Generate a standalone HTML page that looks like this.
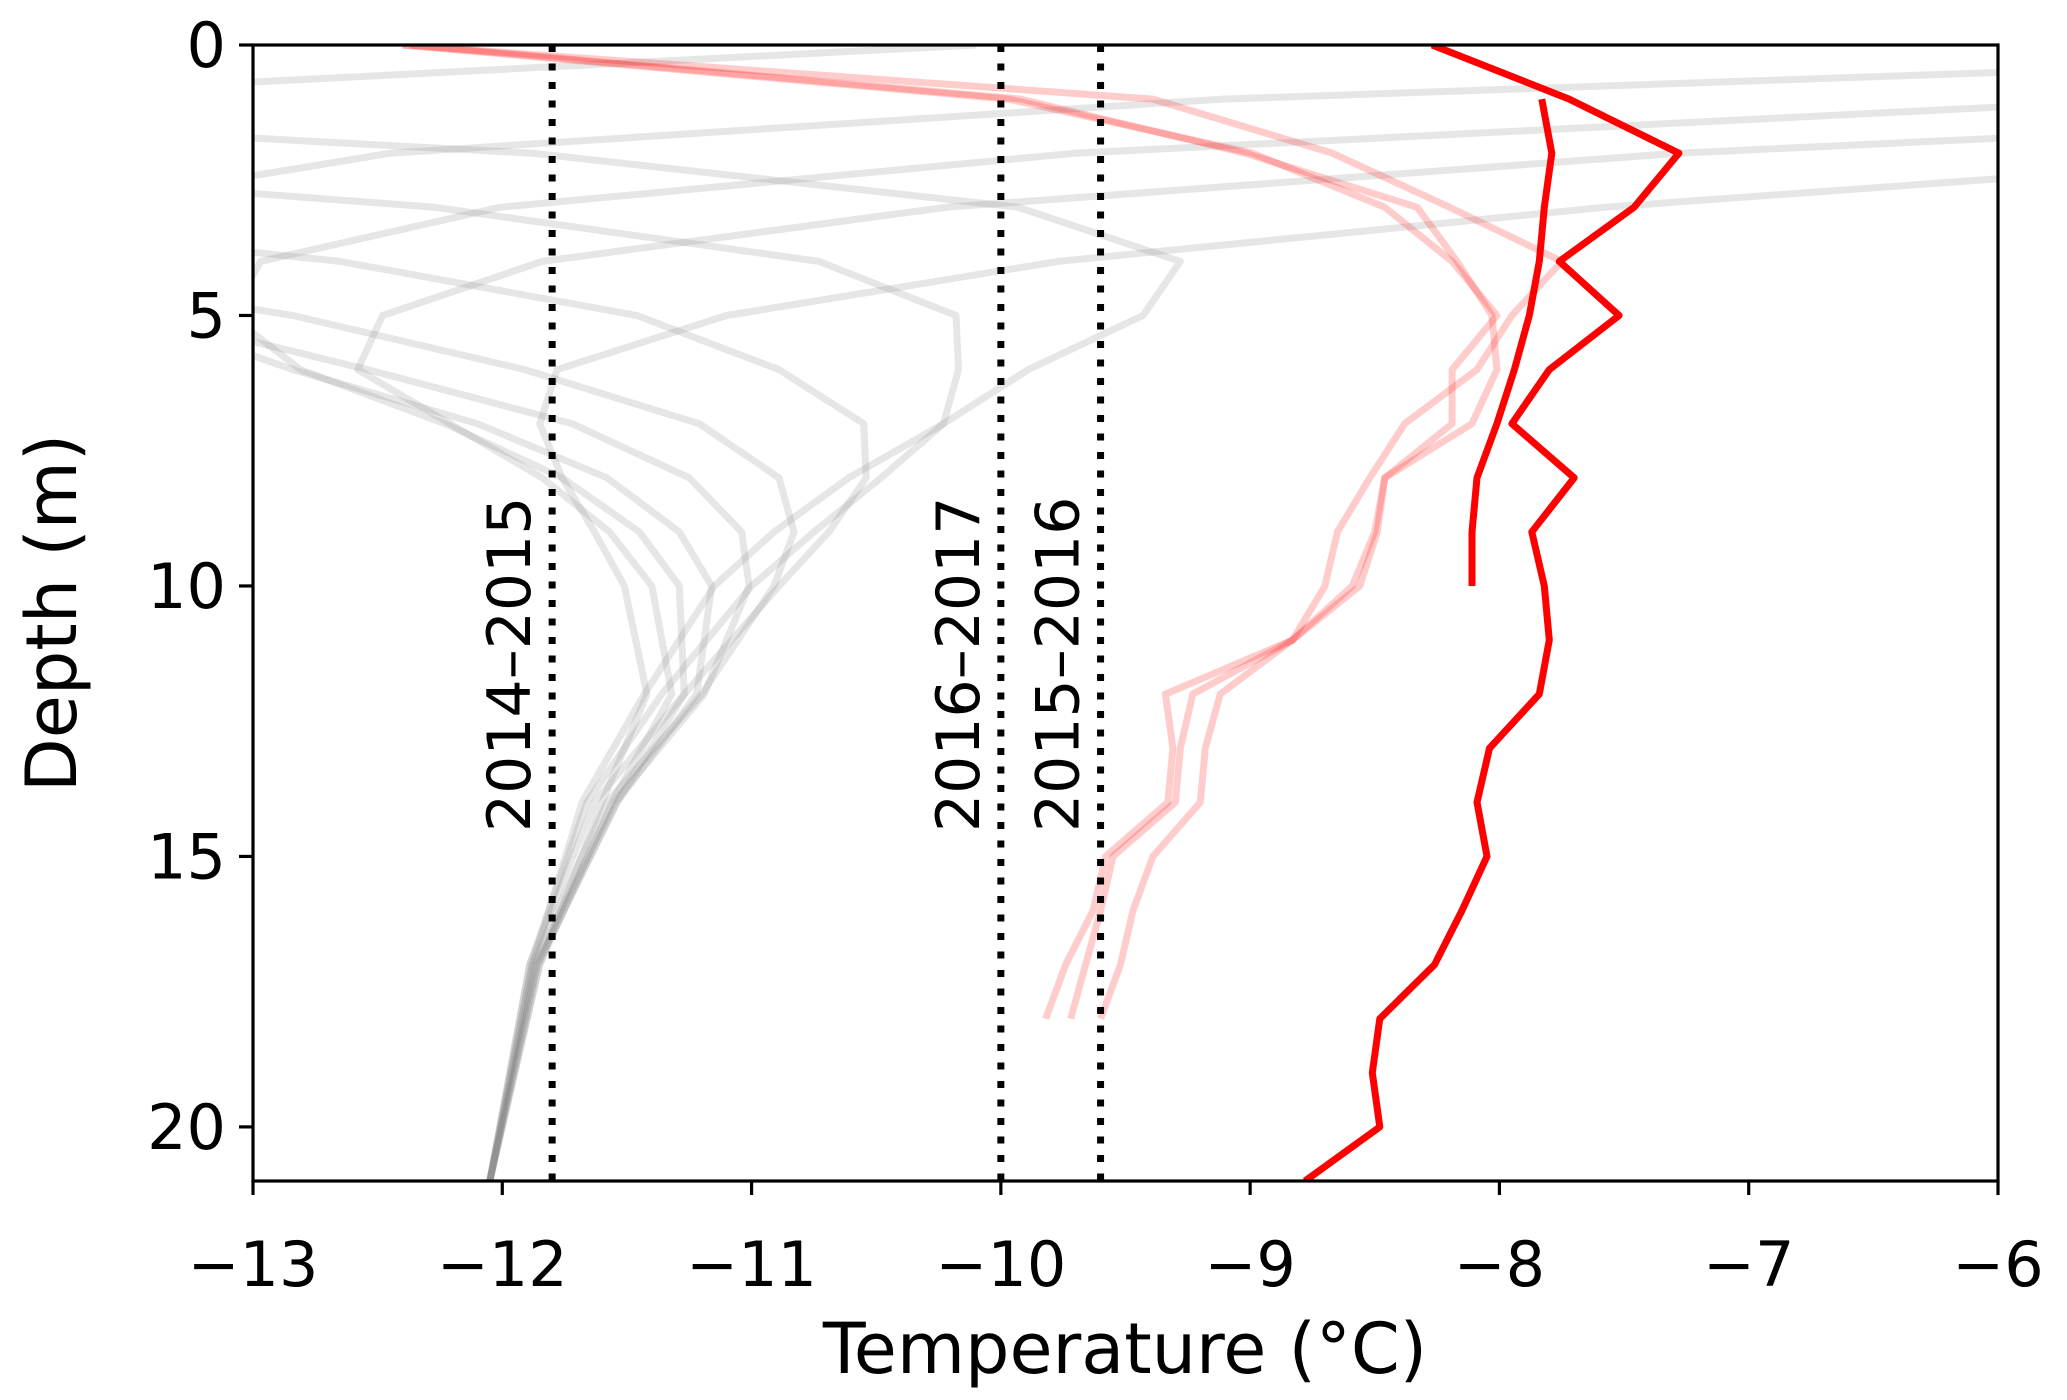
<!DOCTYPE html>
<html><head><meta charset="utf-8">
<style>
html,body{margin:0;padding:0;background:#fff;}
svg{display:block;font-family:"DejaVu Sans","Liberation Sans",sans-serif;}
</style></head>
<body>
<svg id="chart" width="2067" height="1400" viewBox="0 0 2067 1400" xmlns="http://www.w3.org/2000/svg">
<defs><clipPath id="plotclip"><rect x="253" y="45" width="1745" height="1136"/></clipPath></defs>
<rect width="2067" height="1400" fill="#fff"/>
<g id="gray-layer" clip-path="url(#plotclip)"></g>
<g id="lightred-layer" clip-path="url(#plotclip)"></g>
<g id="red-layer" clip-path="url(#plotclip)"></g>
<g id="vline-layer"></g>
<g id="axis-layer"></g>
<text x="1125" y="1373" font-size="70" text-anchor="middle">Temperature (°C)</text>
<text transform="translate(76,613) rotate(-90)" font-size="70" text-anchor="middle">Depth (m)</text>
</svg>
<script>
// ---- data ----
const grayDepths = [0,1,2,3,4,5,6,7,8,9,10,12,14,17,21];
const grayProfile1 = [-22.56,-15.90,-11.88,-9.93,-9.28,-9.43,-9.89,-10.23,-10.61,-10.91,-11.15,-11.43,-11.68,-11.88,-12.05];
const grayProfile2 = [-25.8,-19.66,-15.11,-12.27,-10.73,-10.18,-10.17,-10.23,-10.48,-10.75,-11.00,-11.36,-11.66,-11.89,-12.05];
const grayProfile3 = [-24.87,-21.36,-17.70,-14.73,-12.65,-11.46,-10.89,-10.55,-10.54,-10.69,-10.89,-11.27,-11.63,-11.89,-12.05];
const grayProfile4 = [-17.79,-18.70,-17.72,-15.97,-14.21,-12.84,-11.91,-11.21,-10.89,-10.83,-10.91,-11.20,-11.58,-11.88,-12.05];
const grayProfile5 = [-10.10,-14.33,-15.69,-15.42,-14.48,-13.43,-12.54,-11.72,-11.25,-11.04,-11.01,-11.19,-11.55,-11.87,-12.05];
const grayProfile6 = [-2.79,-9.11,-12.45,-13.77,-13.90,-13.46,-12.84,-12.10,-11.58,-11.29,-11.16,-11.22,-11.54,-11.86,-12.05];
const grayProfile7 = [1.43,-5.36,-9.70,-12.01,-12.97,-13.09,-12.81,-12.23,-11.76,-11.45,-11.29,-11.27,-11.54,-11.86,-12.05];
const grayProfile8 = [3.62,-2.64,-7.28,-10.22,-11.84,-12.48,-12.58,-12.21,-11.84,-11.57,-11.40,-11.32,-11.56,-11.85,-12.05];
const grayProfile9 = [2.40,-0.95,-4.58,-7.58,-9.77,-11.10,-11.78,-11.85,-11.76,-11.63,-11.51,-11.42,-11.60,-11.85,-12.05];

const fadedDepths = [0,1,2,3,4,5,6,7,8,9,10,11,12,13,14,15,16,17,18];
const fadedA = [-12.37,-9.92,-9.02,-8.33,-8.17,-8.03,-8.01,-8.11,-8.46,-8.50,-8.59,-8.83,-9.12,-9.18,-9.20,-9.39,-9.47,-9.52,-9.60];
const fadedB = [-12.40,-9.39,-8.67,-8.20,-7.75,-7.95,-8.09,-8.38,-8.52,-8.65,-8.70,-8.83,-9.23,-9.28,-9.30,-9.55,-9.60,-9.66,-9.72];
const fadedC = [-12.40,-9.97,-8.99,-8.46,-8.19,-8.01,-8.19,-8.19,-8.46,-8.49,-8.56,-8.83,-9.34,-9.31,-9.33,-9.58,-9.63,-9.74,-9.82];

const redDepths = [0,1,2,3,4,5,6,7,8,9,10,11,12,13,14,15,16,17,18,19,20,21];
const redJagged = [-8.27,-7.72,-7.28,-7.46,-7.76,-7.52,-7.80,-7.95,-7.70,-7.87,-7.82,-7.80,-7.84,-8.04,-8.09,-8.05,-8.15,-8.26,-8.48,-8.51,-8.48,-8.78];
const redSmoothDepths = [1,2,3,4,5,6,7,8,9,10];
const redSmooth = [-7.83,-7.79,-7.82,-7.84,-7.88,-7.94,-8.01,-8.09,-8.11,-8.11];

const markerYears = ["2014–2015","2016–2017","2015–2016"];
const markerTemps = [-11.8,-10.0,-9.6];

const xTicks = [-13,-12,-11,-10,-9,-8,-7,-6];
const yTicks = [0,5,10,15,20];

// ---- scales ----
const X0=253, X1=1998, Y0=45, Y1=1181;
const xMin=-13, xMax=-6, yMin=0, yMax=21;
function xs(t){return X0+(t-xMin)/(xMax-xMin)*(X1-X0);}
function ys(d){return Y0+(d-yMin)/(yMax-yMin)*(Y1-Y0);}
const NS="http://www.w3.org/2000/svg";
function mk(tag,attrs,parent){const e=document.createElementNS(NS,tag);for(const k in attrs)e.setAttribute(k,attrs[k]);parent.appendChild(e);return e;}
function pts(depths,temps){return temps.map((t,i)=>xs(t).toFixed(1)+","+ys(depths[i]).toFixed(1)).join(" ");}

const gray=document.getElementById('gray-layer');
[grayProfile1,grayProfile2,grayProfile3,grayProfile4,grayProfile5,grayProfile6,grayProfile7,grayProfile8,grayProfile9].forEach((p,i)=>{
  const l=mk('polyline',{points:pts(grayDepths,p),fill:'none',stroke:'#808080','stroke-opacity':'0.2','stroke-width':'7','stroke-linejoin':'round'},gray);
  
  
});
const lr=document.getElementById('lightred-layer');
[fadedA,fadedB,fadedC].forEach((p,i)=>{
  const l=mk('polyline',{points:pts(fadedDepths,p),fill:'none',stroke:'#ff0000','stroke-opacity':'0.2','stroke-width':'7','stroke-linejoin':'round'},lr);
  
  
});
const rd=document.getElementById('red-layer');
let r1=mk('polyline',{points:pts(redSmoothDepths,redSmooth),fill:'none',stroke:'#ff0000','stroke-width':'7','stroke-linejoin':'round'},rd);


let r2=mk('polyline',{points:pts(redDepths,redJagged),fill:'none',stroke:'#ff0000','stroke-width':'7','stroke-linejoin':'round'},rd);



const vl=document.getElementById('vline-layer');
markerTemps.forEach((t,i)=>{
  const x=xs(t);
  const l=mk('line',{x1:x,x2:x,y1:Y0,y2:Y1,stroke:'#000','stroke-width':'7','stroke-dasharray':'7,11.5'},vl);
  
  
  const tx=mk('text',{transform:'translate('+(x-22)+',832) rotate(-90)','font-size':'60'},vl);
  tx.textContent=markerYears[i];
  
  
});

const ax=document.getElementById('axis-layer');
let fr=mk('rect',{x:X0,y:Y0,width:X1-X0,height:Y1-Y0,fill:'none',stroke:'#000','stroke-width':'3.2'},ax);


xTicks.forEach(t=>{
  const x=xs(t);
  const tk=mk('line',{x1:x,x2:x,y1:Y1,y2:Y1+14,stroke:'#000','stroke-width':'3.2'},ax);
  
  
  const lb=mk('text',{x:x,y:1286,'font-size':'62','text-anchor':'middle'},ax);
  lb.textContent=(t<0?'−':'')+Math.abs(t);
  
  
});
yTicks.forEach(d=>{
  const y=ys(d);
  const tk=mk('line',{x1:X0-14,x2:X0,y1:y,y2:y,stroke:'#000','stroke-width':'3.2'},ax);
  
  
  const lb=mk('text',{x:226,y:y+22,'font-size':'62','text-anchor':'end'},ax);
  lb.textContent=String(d);
  
  
});
</script>
</body></html>
